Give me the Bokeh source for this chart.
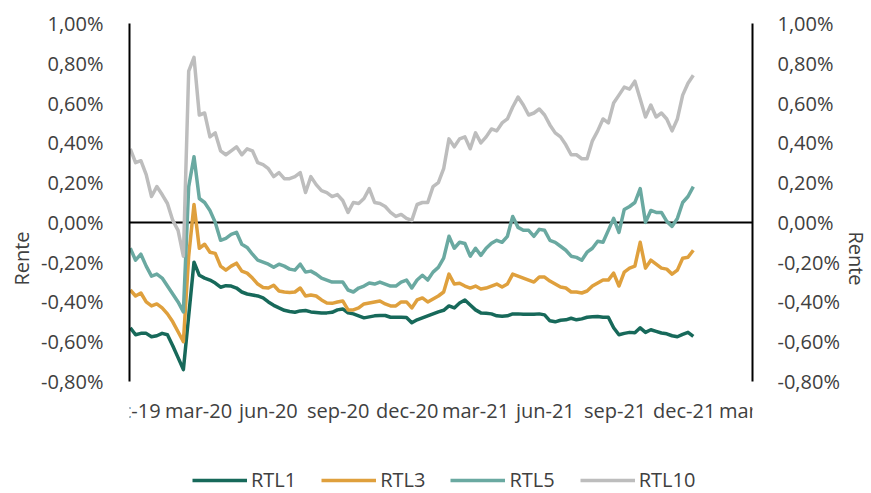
import pandas as pd
from bokeh.plotting import figure
from bokeh.models import (Range1d, LinearAxis, FixedTicker, Span, Legend, LegendItem,
                          CustomJSTickFormatter)
from bokeh.core.properties import value
from bokeh.embed import file_html
from bokeh.resources import INLINE

# ---------------- data ----------------
x_tick_dates = ["2019-12-01", "2020-03-01", "2020-06-01", "2020-09-01", "2020-12-01",
                "2021-03-01", "2021-06-01", "2021-09-01", "2021-12-01", "2022-03-01"]
x_tick_labels = ["dec-19", "mar-20", "jun-20", "sep-20", "dec-20",
                 "mar-21", "jun-21", "sep-21", "dec-21", "mar-22"]
y_ticks = [-0.8, -0.6, -0.4, -0.2, 0.0, 0.2, 0.4, 0.6, 0.8, 1.0]
y_tick_labels = ["-0,80%", "-0,60%", "-0,40%", "-0,20%", "0,00%",
                 "0,20%", "0,40%", "0,60%", "0,80%", "1,00%"]
series_names = ["RTL1", "RTL3", "RTL5", "RTL10"]

# weekly observation dates
dates = pd.date_range("2019-12-02", periods=107, freq="7D")

rtl1 = [-0.53, -0.565, -0.558, -0.558, -0.575, -0.57, -0.558, -0.565, -0.62, -0.68,
        -0.74, -0.47, -0.20, -0.266, -0.28, -0.29, -0.305, -0.326, -0.318, -0.32,
        -0.33, -0.35, -0.36, -0.365, -0.37, -0.38, -0.40, -0.417, -0.43, -0.442,
        -0.448, -0.452, -0.445, -0.443, -0.45, -0.453, -0.456, -0.455, -0.452, -0.44,
        -0.435, -0.455, -0.46, -0.47, -0.48, -0.475, -0.47, -0.468, -0.468, -0.477,
        -0.477, -0.477, -0.478, -0.505, -0.49, -0.48, -0.47, -0.46, -0.45, -0.442,
        -0.42, -0.43, -0.405, -0.39, -0.415, -0.44, -0.455, -0.457, -0.46, -0.47,
        -0.472, -0.47, -0.46, -0.46, -0.462, -0.462, -0.462, -0.46, -0.465, -0.495,
        -0.50, -0.492, -0.49, -0.482, -0.49, -0.485, -0.477, -0.475, -0.473, -0.477,
        -0.477, -0.53, -0.565, -0.558, -0.553, -0.555, -0.53, -0.553, -0.54, -0.548,
        -0.556, -0.56, -0.57, -0.575, -0.563, -0.553, -0.573]

rtl3 = [-0.34, -0.37, -0.355, -0.40, -0.42, -0.41, -0.43, -0.46, -0.50, -0.55,
        -0.60, -0.17, 0.09, -0.13, -0.11, -0.15, -0.156, -0.22, -0.24, -0.22,
        -0.205, -0.245, -0.255, -0.28, -0.31, -0.327, -0.33, -0.316, -0.345, -0.35,
        -0.352, -0.35, -0.33, -0.37, -0.365, -0.37, -0.39, -0.405, -0.407, -0.40,
        -0.395, -0.44, -0.44, -0.43, -0.41, -0.405, -0.40, -0.395, -0.41, -0.42,
        -0.42, -0.40, -0.40, -0.43, -0.39, -0.38, -0.40, -0.385, -0.37, -0.35,
        -0.26, -0.31, -0.306, -0.32, -0.33, -0.32, -0.335, -0.33, -0.32, -0.31,
        -0.325, -0.31, -0.26, -0.27, -0.28, -0.29, -0.30, -0.275, -0.275, -0.295,
        -0.31, -0.325, -0.33, -0.35, -0.35, -0.355, -0.345, -0.32, -0.305, -0.29,
        -0.29, -0.255, -0.32, -0.25, -0.23, -0.22, -0.10, -0.23, -0.19, -0.21,
        -0.23, -0.235, -0.26, -0.24, -0.18, -0.175, -0.14]

rtl5 = [-0.13, -0.19, -0.16, -0.22, -0.27, -0.26, -0.28, -0.32, -0.36, -0.40,
        -0.45, 0.18, 0.33, 0.12, 0.10, 0.06, 0.0, -0.09, -0.08, -0.06,
        -0.05, -0.11, -0.126, -0.16, -0.19, -0.20, -0.21, -0.226, -0.21, -0.22,
        -0.235, -0.24, -0.21, -0.25, -0.245, -0.26, -0.28, -0.29, -0.30, -0.30,
        -0.30, -0.34, -0.35, -0.33, -0.32, -0.305, -0.31, -0.30, -0.31, -0.32,
        -0.32, -0.30, -0.29, -0.33, -0.29, -0.266, -0.29, -0.25, -0.226, -0.18,
        -0.07, -0.13, -0.10, -0.106, -0.17, -0.13, -0.166, -0.13, -0.105, -0.09,
        -0.10, -0.07, 0.03, -0.025, -0.04, -0.04, -0.07, -0.035, -0.04, -0.09,
        -0.10, -0.12, -0.14, -0.17, -0.176, -0.19, -0.15, -0.13, -0.095, -0.10,
        -0.04, 0.02, -0.05, 0.065, 0.08, 0.10, 0.17, 0.00, 0.06, 0.05,
        0.05, 0.005, -0.02, 0.02, 0.10, 0.13, 0.18]

rtl10 = [0.37, 0.30, 0.31, 0.24, 0.13, 0.18, 0.14, 0.095, 0.01, -0.04,
         -0.17, 0.76, 0.83, 0.54, 0.55, 0.43, 0.45, 0.36, 0.34, 0.36,
         0.38, 0.34, 0.37, 0.36, 0.30, 0.29, 0.27, 0.23, 0.25, 0.22,
         0.22, 0.23, 0.25, 0.15, 0.23, 0.19, 0.16, 0.15, 0.13, 0.14,
         0.11, 0.05, 0.10, 0.095, 0.12, 0.17, 0.10, 0.095, 0.08, 0.05,
         0.03, 0.04, 0.02, 0.01, 0.09, 0.10, 0.10, 0.18, 0.20, 0.27,
         0.42, 0.38, 0.42, 0.43, 0.37, 0.45, 0.40, 0.43, 0.47, 0.46,
         0.50, 0.52, 0.58, 0.63, 0.59, 0.54, 0.55, 0.57, 0.54, 0.49,
         0.45, 0.43, 0.39, 0.34, 0.34, 0.32, 0.32, 0.41, 0.46, 0.52,
         0.50, 0.60, 0.64, 0.68, 0.67, 0.71, 0.62, 0.53, 0.59, 0.53,
         0.55, 0.52, 0.46, 0.52, 0.64, 0.70, 0.74]

colors = ["#17695A", "#DFA03D", "#6AA9A1", "#BDBDBD"]

# ---------------- layout constants ----------------
FONT = "Open Sans"
TXT = "#404040"
Y_MIN, Y_MAX = -0.8, 1.0
PLOT_PX = 358                      # pixel height of the -0.8 .. 1.0 band
PER_PX = (Y_MAX - Y_MIN) / PLOT_PX
EXTRA_PX = 112                     # room under the band for date labels + legend
LABEL_PX = 29                      # date labels below the band

# ---------------- figure ----------------
p = figure(width=871, height=493, frame_width=623, frame_height=PLOT_PX + EXTRA_PX,
           x_axis_type="datetime",
           x_range=Range1d(pd.Timestamp(x_tick_dates[0]), pd.Timestamp(x_tick_dates[-1])),
           y_range=Range1d(Y_MIN - EXTRA_PX * PER_PX, Y_MAX),
           output_backend="svg", toolbar_location=None,
           min_border_left=129, min_border_right=119,
           min_border_top=23, min_border_bottom=0)
p.outline_line_color = None
p.xgrid.visible = False
p.ygrid.visible = False
p.xaxis.visible = False
p.background_fill_color = "white"

# zero line
p.add_layout(Span(location=0, dimension="width", line_color="black",
                  line_width=2, level="underlay"))

renderers = []
for name, vals, col in zip(series_names, [rtl1, rtl3, rtl5, rtl10], colors):
    r = p.line(dates, vals, line_color=col, line_width=3.5, line_join="round")
    renderers.append(r)

# date labels under the -0.80% line
p.text(x=pd.to_datetime(x_tick_dates), y=[Y_MIN - LABEL_PX * PER_PX] * len(x_tick_dates),
       text=x_tick_labels, text_font=value(FONT), text_font_size=value("20px"),
       text_color=TXT, text_align="center", text_baseline="middle")

yfmt = "return tick.toFixed(2).replace('.', ',') + '%';"

def style_y(ax):
    ax.bounds = (Y_MIN, Y_MAX)
    ax.ticker = FixedTicker(ticks=y_ticks)
    ax.formatter = CustomJSTickFormatter(code=yfmt)
    ax.major_label_overrides = {t: l for t, l in zip(y_ticks, y_tick_labels)}
    ax.axis_line_color = "black"
    ax.axis_line_width = 2
    ax.major_tick_line_color = None
    ax.minor_tick_line_color = None
    ax.major_label_standoff = 20
    ax.major_label_text_font = FONT
    ax.major_label_text_font_size = "20px"
    ax.major_label_text_color = TXT
    ax.axis_label = "Rente"
    ax.axis_label_text_font = FONT
    ax.axis_label_text_font_size = "20px"
    ax.axis_label_text_font_style = "normal"
    ax.axis_label_text_color = TXT
    ax.axis_label_standoff = 3

style_y(p.yaxis[0])
ry = LinearAxis()
style_y(ry)
ry.axis_label_standoff = 0
ry.major_label_standoff = 19
p.add_layout(ry, "right")

legend = Legend(items=[LegendItem(label=n, renderers=[r]) for n, r in zip(series_names, renderers)],
                location=(63, 0), orientation="horizontal",
                glyph_width=55, glyph_height=20, label_height=20, label_standoff=4,
                spacing=25, padding=0, margin=0,
                border_line_color=None, background_fill_alpha=0,
                label_text_font=FONT, label_text_font_size="20px", label_text_color=TXT)
p.add_layout(legend)

open("out.html", "w").write(file_html(p, INLINE))
